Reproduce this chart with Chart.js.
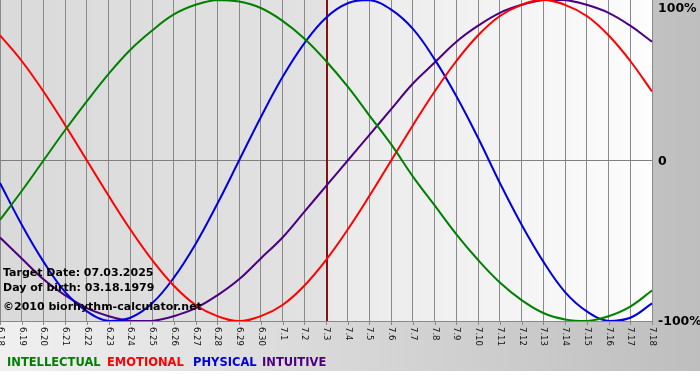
<!DOCTYPE html>
<html>
<head>
<meta charset="utf-8">
<script src="https://cdn.jsdelivr.net/npm/chart.js@4.4.1/dist/chart.umd.min.js"></script>
<style>
html, body { margin: 0; padding: 0; background: #fff; }
#wrap { width: 700px; height: 380px; }
</style>
</head>
<body>
<div id="wrap"><canvas id="myChart" width="700" height="380"></canvas></div>
<script>
// days shown on the x axis
const labels = ['6.18', '6.19', '6.20', '6.21', '6.22', '6.23', '6.24', '6.25', '6.26', '6.27', '6.28', '6.29', '6.30',
    '7.1', '7.2', '7.3', '7.4', '7.5', '7.6', '7.7', '7.8', '7.9', '7.10', '7.11', '7.12', '7.13', '7.14', '7.15', '7.16', '7.17', '7.18'];
// cycle values in percent
const intellectual = [-37, -19, 0, 19, 37, 54, 69, 81, 91, 97, 100, 99, 95, 87, 76, 62, 46, 28, 10, -10, -28, -46, -62, -76, -87, -95, -99, -100, -97, -91, -81];
const emotional = [78, 62, 43, 22, 0, -22, -43, -62, -78, -90, -97, -100, -97, -90, -78, -62, -43, -22, 0, 22, 43, 62, 78, 90, 97, 100, 97, 90, 78, 62, 43];
const physical = [-14, -40, -63, -82, -94, -100, -98, -89, -73, -52, -27, 0, 27, 52, 73, 89, 98, 100, 94, 82, 63, 40, 14, -14, -40, -63, -82, -94, -100, -98, -89];
const intuitive = [-48, -61, -74, -84, -92, -97, -100, -100, -97, -92, -84, -74, -61, -48, -32, -16, 0, 16, 32, 48, 61, 74, 84, 92, 97, 100, 100, 97, 92, 84, 74];
const yTicks = [100, 0, -100];
const yTickLabels = ['100%', '0', '-100%'];
const targetDay = '7.3';
const seriesNames = ['INTELLECTUAL', 'EMOTIONAL', 'PHYSICAL', 'INTUITIVE'];
const infoLines = ['Target Date: 07.03.2025', 'Day of birth: 03.18.1979', '©2010 biorhythm-calculator.net'];

const colors = ['#008000', '#ff0000', '#0000e0', '#4b0082'];
const legendX = [7, 107, 193, 262];

const bioPlugin = {
    id: 'bio',
    beforeDraw(chart) {
        const c = chart.ctx;
        const a = chart.chartArea;
        c.save();
        // page background
        let g = c.createLinearGradient(0, 0, chart.width, 0);
        g.addColorStop(0, '#f0f0f0');
        g.addColorStop(1, '#bebebe');
        c.fillStyle = g;
        c.fillRect(0, 0, chart.width, 371);
        c.fillStyle = '#ffffff';
        c.fillRect(0, 371, chart.width, chart.height - 371);
        // plot background, darker for past days
        const tx = chart.scales.x.getPixelForValue(labels.indexOf(targetDay));
        g = c.createLinearGradient(a.left, 0, a.right, 0);
        g.addColorStop(0, '#dadada');
        g.addColorStop((tx - a.left) / (a.right - a.left), '#e2e2e2');
        g.addColorStop(1, '#fcfcfc');
        c.fillStyle = g;
        c.fillRect(a.left, a.top, a.right - a.left, a.bottom - a.top);
        c.fillStyle = 'rgba(255,255,255,0.25)';
        c.fillRect(tx, a.top, a.right - tx, a.bottom - a.top);
        c.restore();
    },
    beforeDatasetsDraw(chart) {
        const c = chart.ctx;
        const a = chart.chartArea;
        const tx = chart.scales.x.getPixelForValue(labels.indexOf(targetDay));
        c.save();
        c.strokeStyle = '#7e1414';
        c.lineWidth = 2;
        c.beginPath();
        c.moveTo(tx + 1, a.top);
        c.lineTo(tx + 1, a.bottom);
        c.stroke();
        c.restore();
    },
    afterDraw(chart) {
        const c = chart.ctx;
        const a = chart.chartArea;
        const xs = chart.scales.x;
        const ys = chart.scales.y;
        c.save();
        // tick marks and rotated day labels
        c.strokeStyle = '#888888';
        c.lineWidth = 1;
        c.fillStyle = '#111111';
        c.font = '8.5px "DejaVu Sans"';
        c.textAlign = 'left';
        c.textBaseline = 'middle';
        labels.forEach((lab, i) => {
            const x = Math.round(xs.getPixelForValue(i)) + 0.5;
            c.beginPath();
            c.moveTo(x, a.bottom);
            c.lineTo(x, a.bottom + 4);
            c.stroke();
            c.save();
            c.translate(x, a.bottom + 6);
            c.rotate(Math.PI / 2);
            c.fillText(lab, 0, 0);
            c.restore();
        });
        // percent labels on the right
        c.fillStyle = '#000000';
        c.font = 'bold 12.5px "DejaVu Sans"';
        yTicks.forEach((v, i) => {
            const y = Math.max(ys.getPixelForValue(v), a.top + 8) + 1;
            c.fillText(yTickLabels[i], a.right + 6, y);
        });
        // info text
        c.font = 'bold 11px "DejaVu Sans"';
        c.textBaseline = 'alphabetic';
        c.fillText(infoLines[0], 3, 276);
        c.fillText(infoLines[1], 3, 291);
        c.fillText(infoLines[2], 3, 310);
        // legend row
        c.font = 'bold 11.5px "DejaVu Sans"';
        seriesNames.forEach((n, i) => {
            c.fillStyle = colors[i];
            c.fillText(n, legendX[i], 366);
        });
        c.restore();
    }
};

const ctx = document.getElementById('myChart').getContext('2d');
const myChart = new Chart(ctx, {
    type: 'line',
    data: {
        labels: labels,
        datasets: [
            { label: seriesNames[0], data: intellectual, borderColor: colors[0] },
            { label: seriesNames[1], data: emotional, borderColor: colors[1] },
            { label: seriesNames[2], data: physical, borderColor: colors[2] },
            { label: seriesNames[3], data: intuitive, borderColor: colors[3] }
        ]
    },
    options: {
        responsive: false,
        animation: false,
        devicePixelRatio: 1,
        layout: { padding: { left: 0, top: 0, right: 48, bottom: 59 } },
        elements: {
            line: { borderWidth: 2, tension: 0.4, fill: false },
            point: { radius: 0 }
        },
        plugins: { legend: { display: false }, tooltip: { enabled: false } },
        scales: {
            x: {
                offset: false,
                ticks: { display: false },
                grid: { color: '#8a8a8a', lineWidth: 1, drawTicks: false },
                border: { display: true, color: '#888888' },
                afterFit: s => { s.height = 0; }
            },
            y: {
                min: -100,
                max: 100,
                ticks: { display: false, stepSize: 100 },
                grid: {
                    drawTicks: false,
                    color: c => c.tick && c.tick.value === 0 ? '#808080' : 'rgba(0,0,0,0)'
                },
                border: { display: false },
                afterFit: s => { s.width = 0; }
            }
        }
    },
    plugins: [bioPlugin]
});
</script>
</body>
</html>
